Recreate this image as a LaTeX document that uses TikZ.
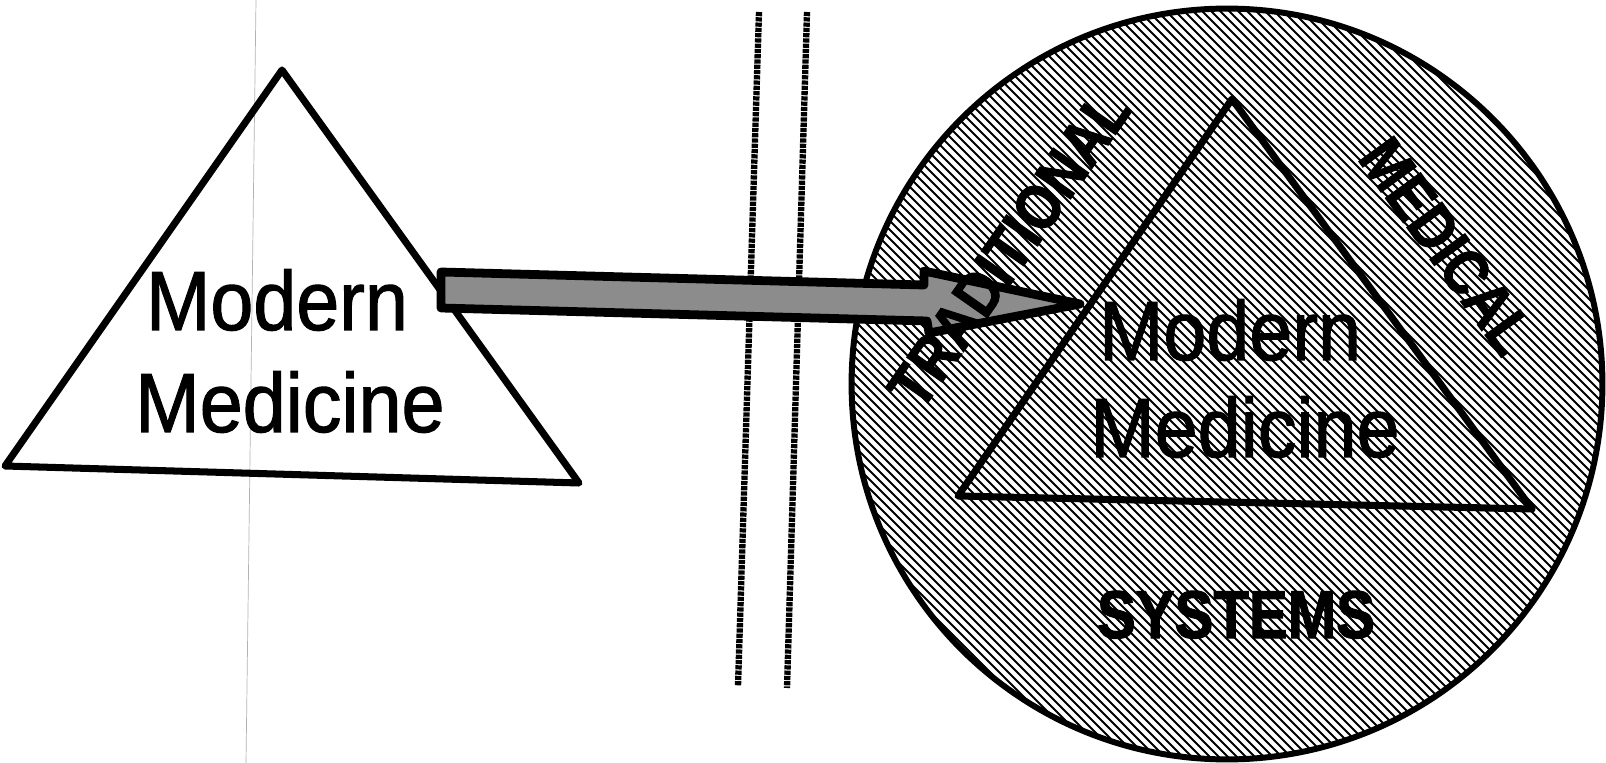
\documentclass[tikz,border=0pt]{standalone}
\usepackage{fontspec}
\newfontfamily\labelfont[FakeStretch=0.92, FakeBold=1.3]{Liberation Sans}
\newfontfamily\capsfont[FakeStretch=0.86, BoldFeatures={FakeBold=1.5}]{Liberation Sans}
\tikzset{
  edge/.style={line width=4pt, line join=round},
  plain/.style={font=\labelfont\fontsize{47.8}{58}\selectfont, inner sep=0pt, anchor=base},
  caps/.style={font=\capsfont\bfseries\fontsize{36}{40}\selectfont, inner sep=0pt},
  hatch/.style={line width=1.1pt},
  rail/.style={line width=3.6pt, dash pattern=on 2.4pt off 0.6pt},
}
\begin{document}
\begin{tikzpicture}[x=0.02cm, y=-0.02cm]
\useasboundingbox (0,0) rectangle (1606,763);
\draw[gray!60, line width=0.4pt] (256,0) -- (246,763);
\draw[edge] (282,70) -- (579,483) -- (5,466) -- cycle;
\node[plain] (leftmodern) at (277,330) {Modern};
\node[plain] (leftmedicine) at (290,432) {Medicine};
\fill[white] (1227,384) circle[radius=7.51cm];
\begin{scope}
\clip (1227,384) circle[radius=7.51cm];
\foreach \c in {300,309,...,1390}
  \draw[hatch] (\c,0) -- ++(770,770);
\end{scope}
\draw[line width=3.4pt] (1227,384) circle[radius=7.51cm];
\draw[edge] (1232,99) -- (1532,509) -- (958,496) -- cycle;
\draw[rail] (759,12) -- (738,686);
\draw[rail] (807,12) -- (787,688);
\filldraw[line width=5pt, line join=round, fill=black!45] (441,272) -- (924,285) -- (924,271) -- (1080,304) -- (929,333) -- (927,321) -- (441,308) -- cycle;
\node[plain] (innermodern) at (1230,360) {Modern};
\node[plain] (innermedicine) at (1245,457) {Medicine};
\node[caps, rotate=55] (traditional) at (1009,249) {TRADITIONAL};
\node[caps, rotate=-54] (medical) at (1447,246) {MEDICAL};
\node[caps, anchor=base] (systems) at (1236,638) {\fontsize{38.5}{42}\selectfont SYSTEMS};
\end{tikzpicture}
\end{document}
